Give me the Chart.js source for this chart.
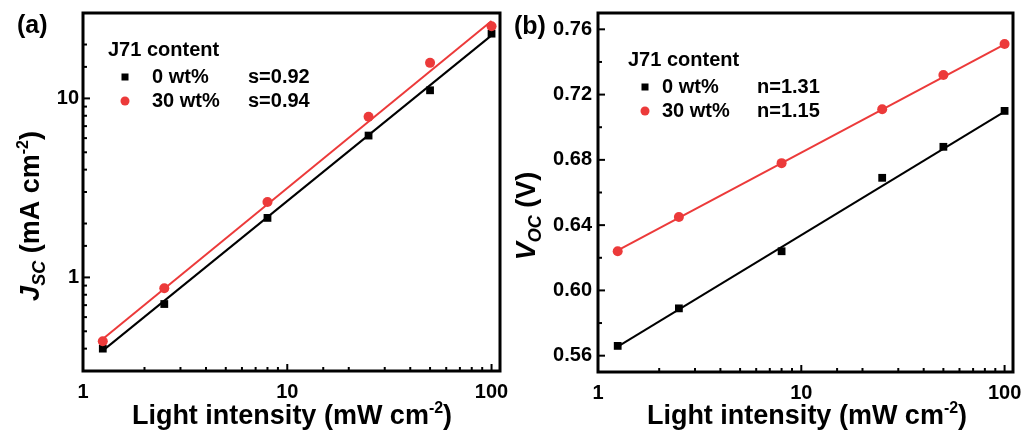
<!DOCTYPE html>
<html>
<head>
<meta charset="utf-8">
<script src="https://cdn.jsdelivr.net/npm/chart.js@4.4.0/dist/chart.umd.min.js"></script>
<style>
html, body { margin: 0; padding: 0; background: #fff; }
#wrap { position: relative; width: 1023px; height: 431px; }
#chartA { position: absolute; left: 0; top: 0; }
#chartB { position: absolute; left: 512px; top: 0; }
</style>
</head>
<body>
<div id="wrap">
  <canvas id="chartA" width="512" height="431"></canvas>
  <canvas id="chartB" width="511" height="431"></canvas>
</div>
<script>
// light intensity (mW cm-2)
const intensity = [1.25, 2.5, 8, 25, 50, 100];
// Jsc (mA cm-2)
const jscPlain = [0.40, 0.71, 2.15, 6.2, 11.1, 23.0];
const jscJ71 = [0.44, 0.87, 2.64, 7.9, 15.8, 25.3];
// Voc (V)
const vocPlain = [0.566, 0.589, 0.624, 0.669, 0.688, 0.710];
const vocJ71 = [0.624, 0.645, 0.678, 0.711, 0.732, 0.751];
// fitted lines, end points
const fitX = [1.25, 100];
const jscFitPlain = [0.39, 22.5];
const jscFitJ71 = [0.453, 27.1];
const vocFitPlain = [0.5655, 0.7095];
const vocFitJ71 = [0.6245, 0.7508];

const seriesNames = ['0 wt%', '30 wt%'];
const jscSlopes = ['s=0.92', 's=0.94'];
const vocIdeality = ['n=1.31', 'n=1.15'];
const xTickLabels = [1, 10, 100];
const jscTickLabels = [1, 10];
const vocTicks = [0.56, 0.58, 0.60, 0.62, 0.64, 0.66, 0.68, 0.70, 0.72, 0.74, 0.76];
const vocTickLabels = [0.56, 0.60, 0.64, 0.68, 0.72, 0.76];

const FONT = '"Liberation Sans", Arial, sans-serif';
const RED = '#ec3a3a';
const BLACK = '#000';

function pts(xs, ys) {
    return xs.map((x, i) => ({ x: x, y: ys[i] }));
}

function hasLabel(list, v) {
    return list.some(t => Math.abs(t - v) < 1e-6 * Math.max(1, Math.abs(t)));
}

function rich(ctx, parts, x, y, angle) {
    ctx.save();
    ctx.translate(x, y);
    ctx.rotate(angle);
    ctx.fillStyle = BLACK;
    ctx.textAlign = 'left';
    ctx.textBaseline = 'alphabetic';
    let total = 0;
    parts.forEach(p => {
        p.f = (p.it ? 'italic ' : '') + 'bold ' + p.size + 'px ' + FONT;
        ctx.font = p.f;
        p.w = ctx.measureText(p.t).width;
        total += p.w;
    });
    let cx = -total / 2;
    parts.forEach(p => {
        ctx.font = p.f;
        ctx.fillText(p.t, cx, p.dy || 0);
        cx += p.w;
    });
    ctx.restore();
}

// frame, inward ticks, titles and legend
const decorPlugin = {
    id: 'decor',
    afterDraw(chart, args, o) {
        const ctx = chart.ctx;
        const a = chart.chartArea;
        const xs = chart.scales.x, ys = chart.scales.y;
        ctx.save();
        ctx.strokeStyle = BLACK;
        ctx.lineWidth = 2;
        xs.ticks.forEach(t => {
            const px = xs.getPixelForValue(t.value);
            if (px < a.left + 1 || px > a.right - 1) return;
            const len = hasLabel(o.xLabels, t.value) ? 7 : 4;
            ctx.beginPath(); ctx.moveTo(px, a.bottom); ctx.lineTo(px, a.bottom - len); ctx.stroke();
        });
        ys.ticks.forEach(t => {
            const py = ys.getPixelForValue(t.value);
            if (py < a.top + 1 || py > a.bottom - 1) return;
            const len = hasLabel(o.yLabels, t.value) ? 7 : 4;
            ctx.beginPath(); ctx.moveTo(a.left, py); ctx.lineTo(a.left + len, py); ctx.stroke();
        });
        ctx.lineWidth = 3;
        ctx.strokeRect(a.left, a.top, a.right - a.left, a.bottom - a.top);

        // panel letter
        ctx.fillStyle = BLACK;
        ctx.font = 'bold 25px ' + FONT;
        ctx.textBaseline = 'middle';
        ctx.textAlign = 'left';
        ctx.fillText(o.panel, o.panelX, o.panelY);

        // x title
        rich(ctx, [
            { t: 'Light intensity (mW cm', size: 27 },
            { t: '-2', size: 16, dy: -11 },
            { t: ')', size: 27 }
        ], o.xTitleX, 424, 0);
        // y title
        rich(ctx, o.yTitle, o.yTitleX, o.yTitleY, -Math.PI / 2);

        // legend
        const L = o.legend;
        ctx.font = 'bold 20px ' + FONT;
        ctx.textBaseline = 'middle';
        ctx.fillText('J71 content', L.titleX, L.titleY);
        seriesNames.forEach((name, i) => {
            const y = L.rowY[i];
            ctx.fillStyle = i === 0 ? BLACK : RED;
            if (i === 0) {
                ctx.fillRect(L.markX - 3.5, y - 3.5, 7, 7);
            } else {
                ctx.beginPath(); ctx.arc(L.markX, y, 4.5, 0, Math.PI * 2); ctx.fill();
            }
            ctx.fillStyle = BLACK;
            ctx.fillText(name, L.nameX, y);
            ctx.fillText(o.values[i], L.valX, y);
        });
        ctx.restore();
    }
};

function tickFont() {
    return { family: FONT, size: 20, weight: 'bold' };
}

function makeChart(id, cfg) {
    return new Chart(document.getElementById(id), {
        type: 'scatter',
        data: {
            datasets: [
                { data: pts(fitX, cfg.fitPlain), showLine: true, borderColor: BLACK, borderWidth: 2, pointRadius: 0, order: 2 },
                { data: pts(fitX, cfg.fitJ71), showLine: true, borderColor: RED, borderWidth: 2, pointRadius: 0, order: 2 },
                { data: pts(intensity, cfg.plain), pointStyle: 'rect', pointRadius: 5.5, backgroundColor: BLACK, borderWidth: 0, order: 1 },
                { data: pts(intensity, cfg.j71), pointStyle: 'circle', pointRadius: 5, backgroundColor: RED, borderWidth: 0, order: 0 }
            ]
        },
        options: {
            responsive: false,
            animation: false,
            events: [],
            layout: { padding: { left: 0, right: cfg.padRight, top: 13, bottom: 0 } },
            plugins: { legend: { display: false }, tooltip: { enabled: false }, decor: cfg.decor },
            scales: {
                x: {
                    type: 'logarithmic', min: 1, max: 110,
                    grid: { display: false, drawTicks: false },
                    border: { display: false },
                    ticks: {
                        autoSkip: false, maxRotation: 0, padding: 9, color: BLACK, font: tickFont(),
                        callback: v => hasLabel(xTickLabels, v) ? String(Math.round(v)) : ''
                    },
                    afterFit: s => { s.height = cfg.xHeight; s.paddingLeft = 0; s.paddingRight = 0; }
                },
                y: cfg.yScale
            }
        },
        plugins: [decorPlugin]
    });
}

makeChart('chartA', {
    plain: jscPlain, j71: jscJ71, fitPlain: jscFitPlain, fitJ71: jscFitJ71,
    padRight: 12, xHeight: 60,
    yScale: {
        type: 'logarithmic', min: 0.3, max: 30,
        grid: { display: false, drawTicks: false },
        border: { display: false },
        ticks: {
            autoSkip: false, padding: 4, color: BLACK, font: tickFont(),
            callback: v => hasLabel(jscTickLabels, v) ? String(Math.round(v)) : ''
        },
        afterFit: s => { s.width = 83; s.paddingTop = 0; s.paddingBottom = 0; }
    },
    decor: {
        panel: '(a)', panelX: 17, panelY: 26,
        xLabels: xTickLabels, yLabels: jscTickLabels,
        xTitleX: 292,
        yTitle: [
            { t: 'J', size: 27, it: true },
            { t: 'SC', size: 18, it: true, dy: 6 },
            { t: ' (mA cm', size: 27 },
            { t: '-2', size: 16, dy: -11 },
            { t: ')', size: 27 }
        ],
        yTitleX: 39, yTitleY: 216,
        values: jscSlopes,
        legend: { titleX: 108, titleY: 50, markX: 125, nameX: 152, valX: 248, rowY: [77, 101] }
    }
});

makeChart('chartB', {
    plain: vocPlain, j71: vocJ71, fitPlain: vocFitPlain, fitJ71: vocFitJ71,
    padRight: 10, xHeight: 59,
    yScale: {
        type: 'linear', min: 0.55, max: 0.77,
        grid: { display: false, drawTicks: false },
        border: { display: false },
        afterBuildTicks: s => { s.ticks = vocTicks.map(v => ({ value: v })); },
        ticks: {
            autoSkip: false, padding: 6, color: BLACK, font: tickFont(),
            callback: v => hasLabel(vocTickLabels, v) ? v.toFixed(2) : ''
        },
        afterFit: s => { s.width = 86; s.paddingTop = 0; s.paddingBottom = 0; }
    },
    decor: {
        panel: '(b)', panelX: 2, panelY: 27,
        xLabels: xTickLabels, yLabels: vocTickLabels,
        xTitleX: 295,
        yTitle: [
            { t: 'V', size: 27, it: true },
            { t: 'OC', size: 18, it: true, dy: 6 },
            { t: ' (V)', size: 27 }
        ],
        yTitleX: 23, yTitleY: 216,
        values: vocIdeality,
        legend: { titleX: 116, titleY: 60, markX: 133, nameX: 150, valX: 245, rowY: [87, 111] }
    }
});
</script>
</body>
</html>
